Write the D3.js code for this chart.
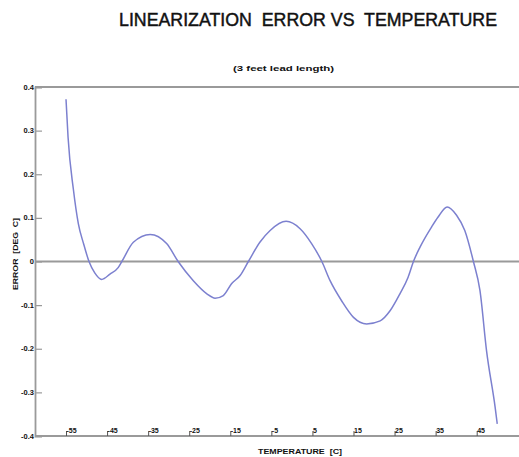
<!DOCTYPE html>
<html>
<head>
<meta charset="utf-8">
<script src="https://cdn.jsdelivr.net/npm/d3@7"></script>
<style>
  html, body { margin: 0; padding: 0; background: #fff; }
  svg { display: block; }
  text { font-family: "Liberation Sans", Arial, sans-serif; fill: #111; white-space: pre; }
</style>
</head>
<body>
<svg id="chart" width="519" height="457"></svg>
<script>
// ---- data ----
const temperatures = [-55, -54.5, -53.2, -52.0, -50.7, -49.4, -48.0, -46.3, -44.3, -42.3, -41.4, -38.6, -34.5, -30.5, -27.7,
  -24.0, -20.7, -18.7, -16.7, -14.7, -12.6, -10.6, -7.8, -5.3, -1.4, 2.0, 4.8, 7.3, 9.3, 12.1, 15.0, 18.2,
  21.5, 23.9, 26.3, 28.3, 29.6, 31.2, 34.0, 35.6, 37.8, 40.1, 42.1, 44.2, 45.8, 47.4, 49.5, 50];
const errors = [0.372, 0.285, 0.165, 0.087, 0.040, 0, -0.026, -0.041, -0.029, -0.014, 0, 0.044, 0.062, 0.041, 0,
  -0.044, -0.074, -0.084, -0.078, -0.051, -0.032, 0, 0.044, 0.071, 0.092, 0.075, 0.041, 0, -0.044, -0.090, -0.128, -0.143,
  -0.136, -0.113, -0.074, -0.036, 0, 0.033, 0.079, 0.102, 0.125, 0.106, 0.071, 0, -0.067, -0.205, -0.335, -0.372];
const xTicks = [-55, -45, -35, -25, -15, -5, 5, 15, 25, 35, 45];
const yTicks = [0.4, 0.3, 0.2, 0.1, 0, -0.1, -0.2, -0.3, -0.4];
const yTickLabels = ["0.4", "0.3", "0.2", "0.1", "0", "-0.1", "-0.2", "-0.3", "-0.4"];
const titleText = "LINEARIZATION  ERROR VS  TEMPERATURE";
const subtitleText = "(3 feet lead length)";
const xLabelText = "TEMPERATURE  [C]";
const yLabelText = "ERROR  [DEG  C]";

// ---- layout ----
const svg = d3.select("#chart");
const axisColor = "#9a9a9a";
const x = d3.scaleLinear().domain([-62.55, 55.3]).range([35, 519]);
const y = d3.scaleLinear().domain([-0.4, 0.4]).range([436, 87]);

// title
svg.append("text").attr("x", 119).attr("y", 26)
  .attr("font-size", 18).attr("textLength", 378).attr("lengthAdjust", "spacingAndGlyphs")
  .attr("stroke", "#111").attr("stroke-width", 0.45)
  .text(titleText);
svg.append("text").attr("x", 233).attr("y", 71)
  .attr("font-size", 7).attr("font-weight", "bold").attr("textLength", 101).attr("lengthAdjust", "spacingAndGlyphs")
  .text(subtitleText);

// horizontal lines: top, zero, bottom
[0.4, 0, -0.4].forEach(v => {
  svg.append("line").attr("x1", x.range()[0]).attr("x2", x.range()[1])
    .attr("y1", y(v)).attr("y2", y(v))
    .attr("stroke", axisColor).attr("stroke-width", 1.8);
});

// y axis
const yAxis = d3.axisRight(y).tickValues(yTicks).tickSize(7).tickFormat("");
const gy = svg.append("g").attr("transform", `translate(${x.range()[0]},0)`).call(yAxis);
gy.select(".domain").attr("stroke", axisColor).attr("stroke-width", 1.8);
gy.selectAll(".tick line").attr("stroke", axisColor).attr("stroke-width", 1.2);
svg.append("g").selectAll("text").data(yTicks).join("text")
  .attr("x", 34).attr("y", d => y(d) + 2.5)
  .attr("text-anchor", "end").attr("font-size", 7.5).attr("font-weight", "bold")
  .text((d, i) => yTickLabels[i]);

// x axis ticks (upward) with labels to the right of the tick
const xAxis = d3.axisTop(x).tickValues(xTicks).tickSize(5).tickFormat("");
const gx = svg.append("g").attr("transform", `translate(0,${y(-0.4)})`).call(xAxis);
gx.select(".domain").remove();
gx.selectAll(".tick line").attr("stroke", "#555").attr("stroke-width", 1);
svg.append("g").selectAll("text").data(xTicks).join("text")
  .attr("x", d => x(d) + 0.5).attr("y", y(-0.4) - 3)
  .attr("font-size", 7).attr("font-weight", "bold")
  .text(d => String(d));

// axis labels
svg.append("text").attr("x", 258).attr("y", 454)
  .attr("font-size", 7).attr("font-weight", "bold").attr("textLength", 84).attr("lengthAdjust", "spacingAndGlyphs")
  .text(xLabelText);
svg.append("text").attr("transform", "translate(18,254) rotate(-90)")
  .attr("text-anchor", "middle")
  .attr("font-size", 7).attr("font-weight", "bold").attr("textLength", 72).attr("lengthAdjust", "spacingAndGlyphs")
  .text(yLabelText);

// curve
const pts = temperatures.map((t, i) => [t, errors[i]]);
const line = d3.line().x(d => x(d[0])).y(d => y(d[1])).curve(d3.curveMonotoneX);
svg.append("path").datum(pts).attr("d", line)
  .attr("fill", "none").attr("stroke", "#7c80cf").attr("stroke-width", 1.5);
</script>
</body>
</html>
